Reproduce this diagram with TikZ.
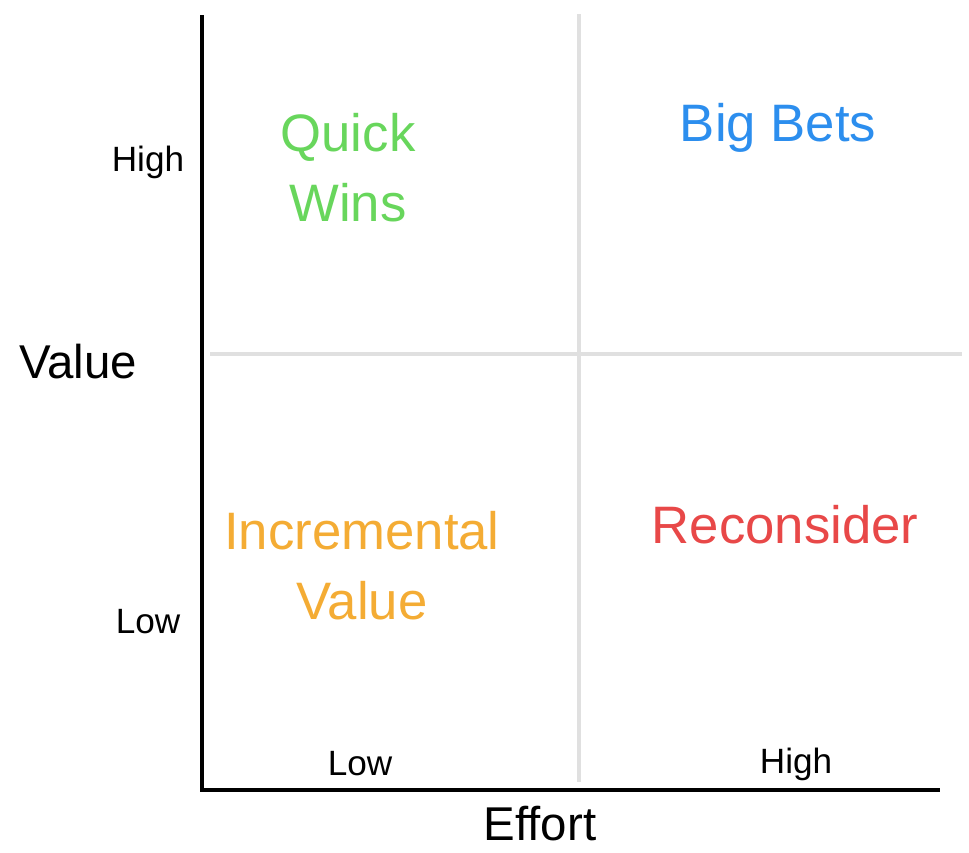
\documentclass[tikz,border=0pt]{standalone}
\usepackage{fontspec}
\setmainfont{Liberation Sans}
\definecolor{winsgreen}{RGB}{104,214,92}
\definecolor{betsblue}{RGB}{44,142,238}
\definecolor{incorange}{RGB}{244,172,52}
\definecolor{recred}{RGB}{232,72,72}
\tikzset{
  axisline/.style={line width=2.3pt, black},
  gridline/.style={line width=1.9pt, black!12},
  ticklabel/.style={font=\fontsize{20}{24}\selectfont},
  axislabel/.style={font=\fontsize{27}{32}\selectfont, inner sep=1pt},
  quadrant/.style={font=\fontsize{30}{40}\selectfont, align=center}
}
\begin{document}
\begin{tikzpicture}[x=0.02cm,y=-0.02cm]
\useasboundingbox (0,0) rectangle (969,852);
\coordinate (top) at (202,15);
\coordinate (origin) at (202,790);
\coordinate (xend) at (940,790);
\coordinate (midtop) at (579,14);
\coordinate (midbot) at (579,782);
\coordinate (midleft) at (210,354);
\coordinate (midright) at (962,354);

\draw [gridline] (midtop) -- (midbot);
\draw [gridline] (midleft) -- (midright);
\draw [axisline] (top) -- (origin) -- (xend);

\node [ticklabel] (vhigh) at (148,162) {High};
\node [ticklabel] (vlow) at (148,622) {Low};
\node [ticklabel] (elow) at (360,764) {Low};
\node [ticklabel] (ehigh) at (796,764) {High};
\node [axislabel] (value) at (78,362) {Value};
\node [axislabel] (effort) at (540,824) {Effort};

\node [quadrant, text=winsgreen] (quickwins) at (348,168) {Quick\\Wins};
\node [quadrant, text=betsblue] (bigbets) at (778,128) {Big Bets};
\node [quadrant, text=incorange] (incvalue) at (362,566) {Incremental\\Value};
\node [quadrant, text=recred] (reconsider) at (785,525) {Reconsider};
\end{tikzpicture}
\end{document}
